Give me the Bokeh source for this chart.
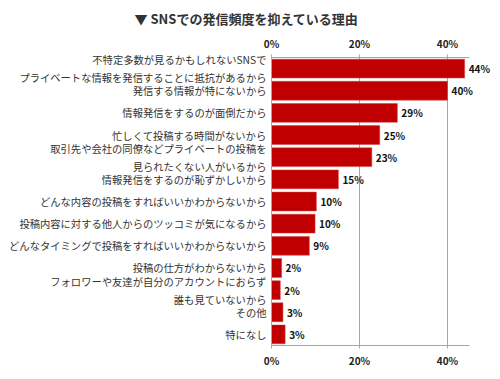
from bokeh.plotting import figure
from bokeh.models import ColumnDataSource, FixedTicker, PrintfTickFormatter, LinearAxis, Range1d
from bokeh.core.properties import value
from bokeh.embed import file_html
from bokeh.resources import INLINE

categories = [
    "不特定多数が見るかもしれないSNSで\nプライベートな情報を発信することに抵抗があるから",
    "発信する情報が特にないから",
    "情報発信をするのが面倒だから",
    "忙しくて投稿する時間がないから",
    "取引先や会社の同僚などプライベートの投稿を\n見られたくない人がいるから",
    "情報発信をするのが恥ずかしいから",
    "どんな内容の投稿をすればいいかわからないから",
    "投稿内容に対する他人からのツッコミが気になるから",
    "どんなタイミングで投稿をすればいいかわからないから",
    "投稿の仕方がわからないから",
    "フォロワーや友達が自分のアカウントにおらず\n誰も見ていないから",
    "その他",
    "特になし",
]
values = [43.9, 40.0, 28.6, 24.6, 22.8, 15.2, 10.2, 9.9, 8.6, 2.3, 2.0, 2.6, 3.1]
labels = ["44%", "40%", "29%", "25%", "23%", "15%", "10%", "10%", "9%", "2%", "2%", "3%", "3%"]
x_ticks = [0, 20, 40]
title_text = "▼ SNSでの発信頻度を抑えている理由"

FONT = "Noto Sans CJK JP"

src = ColumnDataSource(dict(cat=categories, val=values, lab=labels))

p = figure(frame_width=220, frame_height=288, y_range=list(reversed(categories)),
           x_range=Range1d(0, 50), output_backend="svg", toolbar_location=None,
           x_axis_location="below",
           min_border_left=271, min_border_right=0, min_border_top=57, min_border_bottom=22)
p.outline_line_color = None
p.background_fill_color = "white"

p.title.text = title_text
p.title.text_font = FONT
p.title.text_font_size = "13px"
p.title.text_color = "#333333"
p.title.align = "left"
p.title.offset = -137

p.hbar(y="cat", right="val", height=0.85, source=src, fill_color="#C00000",
       line_color="#D04040", line_width=0.5)
p.text(x="val", y="cat", text="lab", source=src, x_offset=4,
       text_font=value(FONT), text_font_size="10px", text_font_style="bold",
       text_baseline="middle", text_color="#111111")

p.ygrid.grid_line_color = None
p.xgrid.ticker = FixedTicker(ticks=x_ticks)
p.xgrid.grid_line_color = "#a6a6a6"
p.xgrid.grid_line_width = 1

bottom = p.below[0]
top = LinearAxis()
p.add_layout(top, "above")
for ax in [bottom, top]:
    ax.ticker = FixedTicker(ticks=x_ticks)
    ax.formatter = PrintfTickFormatter(format="%d%%")
    ax.bounds = (0, 45)
    ax.axis_line_color = "#a6a6a6"
    ax.major_tick_line_color = "#a6a6a6"
    ax.major_tick_in = 0
    ax.major_tick_out = 3
    ax.minor_tick_line_color = None
    ax.major_label_text_font = FONT
    ax.major_label_text_font_size = "10px"
    ax.major_label_text_font_style = "bold"
    ax.major_label_text_color = "#222222"
    ax.major_label_standoff = 4

ya = p.yaxis[0]
ya.axis_line_color = "#a6a6a6"
ya.major_tick_line_color = None
ya.major_tick_out = 0
ya.major_tick_in = 0
ya.minor_tick_line_color = None
ya.major_label_text_font = FONT
ya.major_label_text_font_size = "10.3px"
ya.major_label_text_color = "#333333"
ya.major_label_standoff = 5

open("out.html", "w").write(file_html(p, INLINE))
